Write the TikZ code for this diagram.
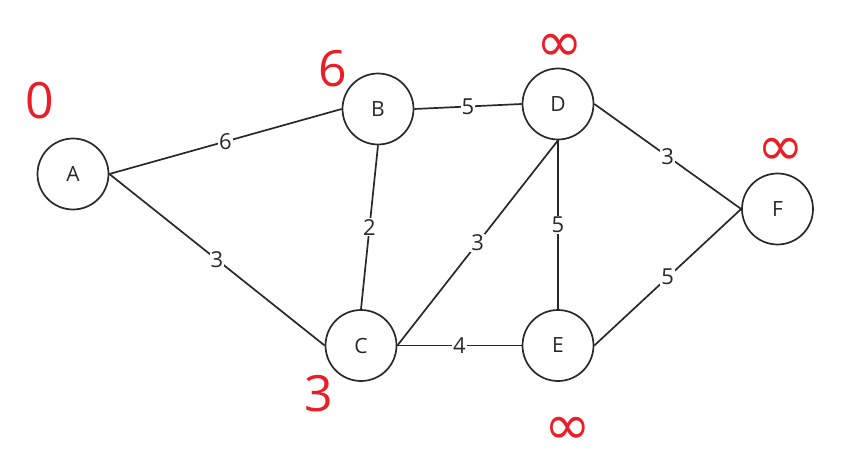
\documentclass[tikz,border=0pt]{standalone}
\usepackage{fontspec}
\setmainfont{Open Sans}
\newfontfamily\symfont{DejaVu Sans}
\definecolor{ink}{RGB}{40,40,40}
\definecolor{distred}{RGB}{234,30,40}
\begin{document}
\begin{tikzpicture}[x=1pt,y=-1pt,
  vertex/.style={circle,draw=ink,line width=1.7pt,minimum size=71pt,inner sep=0pt,font=\fontsize{21}{24}\selectfont,text=ink},
  edge/.style={draw=ink,line width=1.7pt},
  wlabel/.style={fill=white,inner sep=1pt,font=\fontsize{22}{24}\selectfont,text=ink},
  dist/.style={text=distred,font=\fontsize{50}{54}\selectfont,inner sep=0pt},
  infl/.style={text=distred,font=\symfont\fontsize{56}{60}\selectfont,inner sep=0pt,text height=26pt,text depth=0pt}]
\useasboundingbox (0,0) rectangle (851,449);
\node[vertex] (A) at (73,174) {A};
\node[vertex] (B) at (378,109) {B};
\node[vertex] (C) at (361,345.5) {C};
\node[vertex] (D) at (558,104) {D};
\node[vertex] (E) at (558,345.5) {E};
\node[vertex] (F) at (777.5,209) {F};
\draw[edge] (A.east) -- node[wlabel] {6} (B.west);
\draw[edge] (A.east) -- node[wlabel] {3} (C.west);
\draw[edge] (B.east) -- node[wlabel] {5} (D.west);
\draw[edge] (B.south) -- node[wlabel] {2} (C.north);
\draw[edge] (C.east) -- node[wlabel] {3} (D.south);
\draw[edge] (C.east) -- node[wlabel] {4} (E.west);
\draw[edge] (D.south) -- node[wlabel] {5} (E.north);
\draw[edge] (D.east) -- node[wlabel] {3} (F.west);
\draw[edge] (E.east) -- node[wlabel] {5} (F.west);
\node[dist] (dA) at (40,101) {0};
\node[dist] (dB) at (333,69) {6};
\node[dist] (dC) at (319,394) {3};
\node[infl] (dD) at (560,49) {∞};
\node[infl] (dF) at (781,153) {∞};
\node[infl] (dE) at (568,431) {∞};
\end{tikzpicture}
\end{document}
